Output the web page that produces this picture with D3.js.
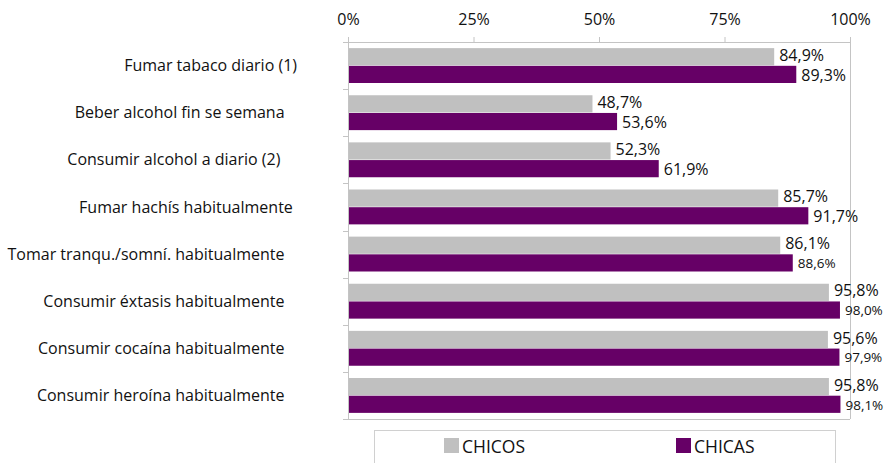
<!DOCTYPE html>
<html>
<head>
<meta charset="utf-8">
<script src="https://cdnjs.cloudflare.com/ajax/libs/d3/7.8.5/d3.min.js"></script>
<style>
body { margin: 0; background: #fff; }
svg { font-family: "Open Sans", "Noto Sans", sans-serif; }
.cat { white-space: pre; }
</style>
</head>
<body>
<script>
// categorias (con espacios finales como en el original)
var categories = [
  "Fumar tabaco diario (1)",
  "Beber alcohol fin se semana   ",
  "Consumir alcohol a diario (2)    ",
  "Fumar hachís habitualmente ",
  "Tomar tranqu./somní. habitualmente   ",
  "Consumir éxtasis habitualmente   ",
  "Consumir cocaína habitualmente   ",
  "Consumir heroína habitualmente   "
];
var chicos = [84.9, 48.7, 52.3, 85.7, 86.1, 95.8, 95.6, 95.8];
var chicas = [89.3, 53.6, 61.9, 91.7, 88.6, 98.0, 97.9, 98.1];
var seriesNames = ["CHICOS", "CHICAS"];
var tickValues = [0, 25, 50, 75, 100];

var width = 889, height = 463;
var colors = { CHICOS: "#c0c0c0", CHICAS: "#660066" };
var axisColor = "#c4c4c4";
var plotTop = 42, plotBottom = 419;

var svg = d3.select("body").append("svg")
  .attr("width", width)
  .attr("height", height);

var x = d3.scaleLinear().domain([0, 100]).range([348, 850]);
var y = d3.scaleBand().domain(d3.range(categories.length)).range([plotTop, plotBottom])
  .paddingInner(0.26).paddingOuter(0.13);
var ySub = d3.scaleBand().domain(seriesNames).range([0, y.bandwidth()]).paddingInner(0.03);

var fmt = function(v) { return v.toFixed(1).replace(".", ",") + "%"; };

// marco del area de trazado
svg.append("line").attr("x1", x(100) + 0.5).attr("x2", x(100) + 0.5)
  .attr("y1", plotTop).attr("y2", plotBottom)
  .attr("stroke", axisColor);
svg.append("line").attr("x1", x(0)).attr("x2", x(100))
  .attr("y1", plotBottom + 0.5).attr("y2", plotBottom + 0.5)
  .attr("stroke", axisColor);

// eje superior
var xAxis = svg.append("g")
  .attr("transform", "translate(0," + plotTop + ")")
  .call(d3.axisTop(x).tickValues(tickValues).tickSize(5).tickPadding(12)
    .tickFormat(function(d) { return d + "%"; }));
xAxis.select(".domain").attr("stroke", axisColor);
xAxis.selectAll(".tick line").attr("stroke", axisColor);
xAxis.selectAll("text").attr("font-size", 16).attr("fill", "#111")
  .attr("font-family", "Open Sans");

// eje izquierdo: marcas en los limites de cada categoria
var step = (plotBottom - plotTop) / categories.length;
var yEdges = d3.range(categories.length + 1).map(function(i) { return plotTop + i * step; });
svg.append("line").attr("x1", x(0) + 0.5).attr("x2", x(0) + 0.5)
  .attr("y1", plotTop).attr("y2", plotBottom)
  .attr("stroke", axisColor);
svg.selectAll(".ytick").data(yEdges).enter().append("line")
  .attr("x1", x(0) - 5).attr("x2", x(0))
  .attr("y1", function(d) { return Math.round(d) + 0.5; })
  .attr("y2", function(d) { return Math.round(d) + 0.5; })
  .attr("stroke", axisColor);

// etiquetas de categoria
svg.selectAll(".cat").data(categories).enter().append("text")
  .attr("class", "cat")
  .attr("x", 297)
  .attr("y", function(d, i) { return y(i) + y.bandwidth() / 2; })
  .attr("dy", "0.35em")
  .attr("text-anchor", "end")
  .attr("font-size", 16)
  .attr("fill", "#111")
  .text(function(d) { return d; });

// barras
var rows = categories.map(function(c, i) {
  return [{ s: "CHICOS", v: chicos[i], i: i }, { s: "CHICAS", v: chicas[i], i: i }];
});
var g = svg.selectAll(".grp").data(rows).enter().append("g")
  .attr("transform", function(d, i) { return "translate(0," + y(i) + ")"; });

g.selectAll("rect").data(function(d) { return d; }).enter().append("rect")
  .attr("x", x(0) + 1)
  .attr("y", function(d) { return ySub(d.s); })
  .attr("width", function(d) { return x(d.v) - x(0) - 1; })
  .attr("height", ySub.bandwidth())
  .attr("fill", function(d) { return colors[d.s]; });

// etiquetas de valor (las de chicos un poco mas arriba)
g.selectAll(".val").data(function(d) { return d; }).enter().append("text")
  .attr("x", function(d) { return x(d.v) + 5; })
  .attr("y", function(d) {
    return ySub(d.s) + ySub.bandwidth() / 2 + (d.s === "CHICOS" ? -1.5 : 0.5);
  })
  .attr("dy", "0.35em")
  .attr("fill", "#111")
  .attr("font-size", function(d) { return (d.s === "CHICAS" && d.i >= 4) ? 13.5 : 16; })
  .text(function(d) { return fmt(d.v); });

// leyenda
svg.append("rect").attr("x", 374.5).attr("y", 430.5).attr("width", 461).attr("height", 40)
  .attr("fill", "none").attr("stroke", "#d0d0d0");
var legendX = d3.scalePoint().domain(seriesNames).range([444, 676]);
var lg = svg.selectAll(".leg").data(seriesNames).enter().append("g")
  .attr("transform", function(d) { return "translate(" + legendX(d) + ",438)"; });
lg.append("rect").attr("width", 15).attr("height", 15)
  .attr("fill", function(d) { return colors[d]; });
lg.append("text").attr("x", 18).attr("y", 14.5)
  .attr("font-size", 17.5)
  .attr("fill", "#111")
  .text(function(d) { return d; });
</script>
</body>
</html>
